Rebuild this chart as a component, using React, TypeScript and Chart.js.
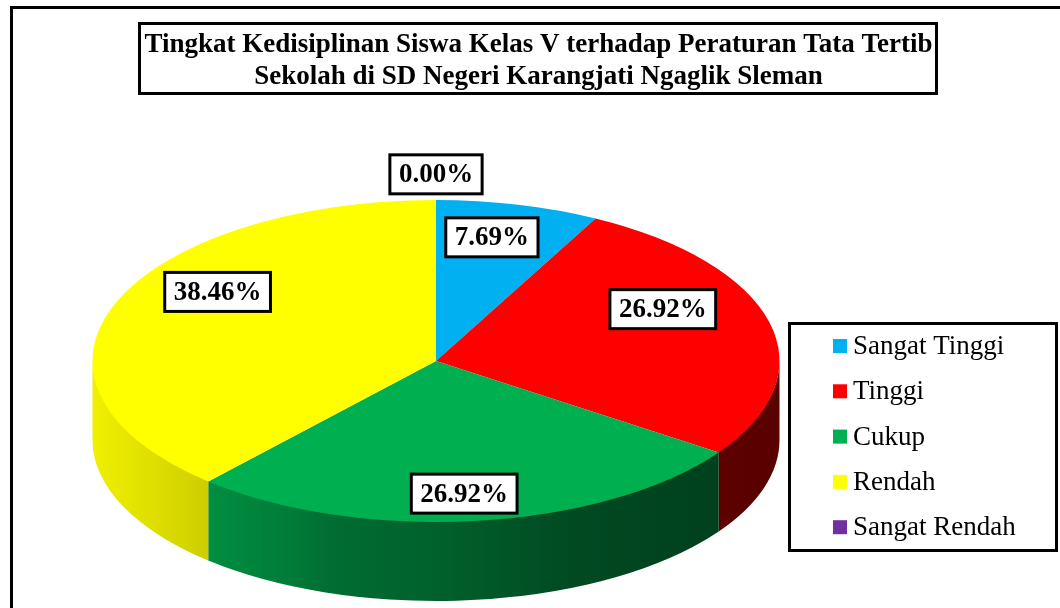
import React, { useEffect, useRef } from 'react';
import { Chart, registerables } from 'chart.js';

Chart.register(...registerables);

// ---- data ----
const titleLines = [
  'Tingkat Kedisiplinan Siswa Kelas V terhadap Peraturan Tata Tertib',
  'Sekolah di SD Negeri Karangjati Ngaglik Sleman',
];
const categories = ['Sangat Tinggi', 'Tinggi', 'Cukup', 'Rendah', 'Sangat Rendah'];
const percentages = [7.69, 26.92, 26.92, 38.46, 0.0];
const sliceColors = ['#00B0F0', '#FF0000', '#00B050', '#FFFF00', '#7030A0'];

// ---- layout / style ----
const W = 1060;
const H = 608;
const PIE = { cx: 436, cy: 361, a: 343.5, b: 161, depth: 79 };
const LABEL_ANCHOR_DY = -16;
const LABEL_RX = 0.68;
const LABEL_RY = 0.93;
const ZERO_R = 1.06;
const SERIF = '"Liberation Serif", "Times New Roman", serif';
const sideShade: [number, number][] = [
  [0, 0.94], [0.13, 0.84], [0.29, 0.7], [0.35, 0.62], [0.52, 0.54], [0.7, 0.42], [0.9, 0.37], [1, 0.35],
];

function shade(hex: string, f: number) {
  const n = parseInt(hex.slice(1), 16);
  const r = Math.round(((n >> 16) & 255) * f);
  const g = Math.round(((n >> 8) & 255) * f);
  const b = Math.round((n & 255) * f);
  return `rgb(${r},${g},${b})`;
}

const pie3d = {
  id: 'pie3d',
  beforeDraw(chart: any) {
    const ctx = chart.ctx;
    ctx.save();
    ctx.fillStyle = '#ffffff';
    ctx.fillRect(0, 0, W, H);
    ctx.strokeStyle = '#000';
    ctx.lineWidth = 3;
    ctx.strokeRect(11.5, 7.5, 1300, 900);
    ctx.restore();
  },
  beforeDatasetsDraw(chart: any) {
    const ctx = chart.ctx;
    const arcs = chart.getDatasetMeta(0).data as any[];
    if (!arcs.length) return;
    const { x, y, outerRadius: R } = arcs[0];
    ctx.save();
    arcs.forEach((arc, i) => {
      const s = Math.max(arc.startAngle, 0);
      const e = Math.min(arc.endAngle, Math.PI);
      if (e <= s) return;
      const g = ctx.createLinearGradient(PIE.cx - PIE.a, 0, PIE.cx + PIE.a, 0);
      sideShade.forEach(([p, f]) => g.addColorStop(p, shade(sliceColors[i], f)));
      ctx.beginPath();
      ctx.ellipse(PIE.cx, PIE.cy - 1, PIE.a, PIE.b, 0, s, e);
      ctx.ellipse(PIE.cx, PIE.cy + PIE.depth, PIE.a, PIE.b, 0, e, s, true);
      ctx.closePath();
      ctx.fillStyle = g;
      ctx.fill();
    });
    ctx.restore();
    ctx.save();
    ctx.translate(PIE.cx, PIE.cy);
    ctx.scale(PIE.a / R, PIE.b / R);
    ctx.translate(-x, -y);
  },
  afterDatasetsDraw(chart: any) {
    const ctx = chart.ctx;
    ctx.restore();
    const arcs = chart.getDatasetMeta(0).data as any[];
    const vals = chart.data.datasets[0].data as number[];
    const order = vals.map((v, i) => i).sort((p, q) => (vals[p] === 0 ? 0 : 1) - (vals[q] === 0 ? 0 : 1));
    const placed: { l: number; t: number; r: number; b: number }[] = [];
    ctx.save();
    ctx.font = `bold 27px ${SERIF}`;
    ctx.textAlign = 'center';
    ctx.textBaseline = 'middle';
    const ay = PIE.cy + LABEL_ANCHOR_DY;
    order.forEach((i) => {
      const arc = arcs[i];
      const mid = (arc.startAngle + arc.endAngle) / 2;
      const zero = vals[i] === 0;
      const rx = zero ? ZERO_R : LABEL_RX;
      const ry = zero ? ZERO_R : LABEL_RY;
      const lx = PIE.cx + PIE.a * rx * Math.cos(mid);
      let ly = ay + PIE.b * ry * Math.sin(mid);
      const text = vals[i].toFixed(2) + '%';
      const w = ctx.measureText(text).width + 18;
      const h = 39;
      for (const p of placed) {
        const l = lx - w / 2, r = lx + w / 2;
        if (l < p.r && r > p.l && ly - h / 2 < p.b + 20 && ly + h / 2 > p.t) {
          ly = p.b + 24 + h / 2;
        }
      }
      const box = { l: lx - w / 2, t: ly - h / 2, r: lx + w / 2, b: ly + h / 2 };
      placed.push(box);
      ctx.fillStyle = '#fff';
      ctx.fillRect(box.l, box.t, w, h);
      ctx.strokeStyle = '#000';
      ctx.lineWidth = 3;
      ctx.strokeRect(box.l, box.t, w, h);
      ctx.fillStyle = '#000';
      ctx.fillText(text, lx, ly + 1);
    });
    ctx.restore();
  },
  afterDraw(chart: any) {
    const ctx = chart.ctx;
    ctx.save();
    // title
    ctx.strokeStyle = '#000';
    ctx.lineWidth = 3;
    ctx.strokeRect(139.5, 23.5, 797, 70);
    ctx.fillStyle = '#000';
    ctx.font = `bold 27px ${SERIF}`;
    ctx.textAlign = 'center';
    ctx.textBaseline = 'alphabetic';
    ctx.fillText(titleLines[0], 538.5, 51.5);
    ctx.fillText(titleLines[1], 538.5, 83.5);
    // legend
    ctx.strokeRect(789.5, 323.5, 267, 227);
    ctx.font = `27px ${SERIF}`;
    ctx.textAlign = 'left';
    const labels = chart.data.labels as string[];
    labels.forEach((lab, i) => {
      const base = 354 + i * 45.3;
      ctx.fillStyle = sliceColors[i];
      ctx.fillRect(833, base - 15, 14, 14);
      ctx.fillStyle = '#000';
      ctx.fillText(lab, 853, base);
    });
    ctx.restore();
  },
};

export default function App() {
  const ref = useRef<HTMLCanvasElement | null>(null);
  useEffect(() => {
    document.body.style.margin = '0';
    const canvas = ref.current!;
    const chart = new Chart(canvas, {
      type: 'pie',
      data: {
        labels: categories,
        datasets: [
          {
            data: percentages,
            backgroundColor: sliceColors,
            borderWidth: 0,
            clip: false as any,
          },
        ],
      },
      options: {
        responsive: false,
        animation: false,
        devicePixelRatio: 1,
        layout: { padding: 10 },
        plugins: {
          legend: { display: false },
          title: { display: false },
          tooltip: { enabled: false },
        },
        events: [],
      },
      plugins: [pie3d],
    });
    return () => chart.destroy();
  }, []);
  return (
    <canvas ref={ref} width={W} height={H} style={{ display: 'block', width: W, height: H }} />
  );
}
